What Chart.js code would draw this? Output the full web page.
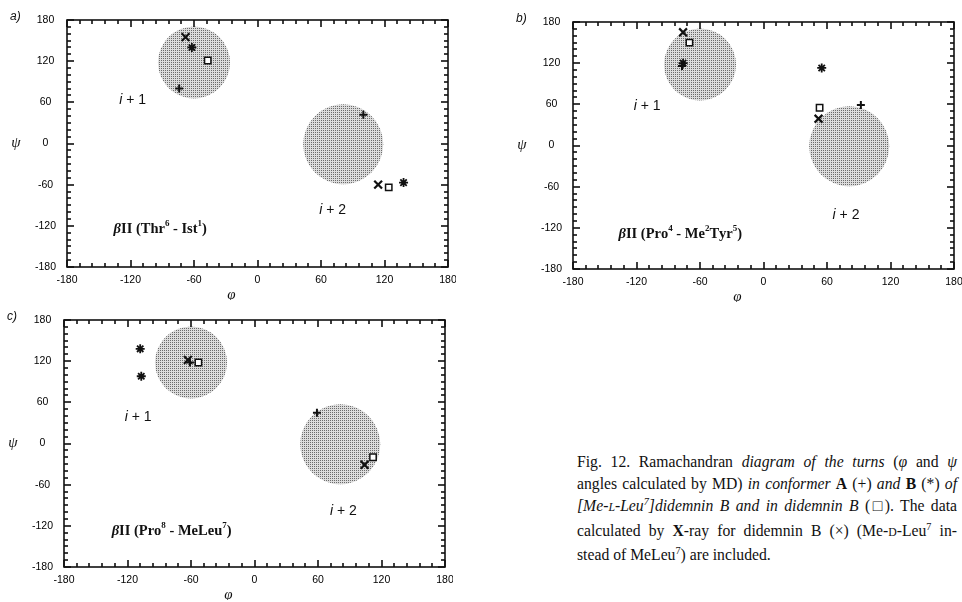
<!DOCTYPE html>
<html>
<head>
<meta charset="utf-8">
<script src="https://cdn.jsdelivr.net/npm/chart.js@4.4.0/dist/chart.umd.min.js"></script>
<style>
  html, body { margin: 0; padding: 0; background: #fff; }
  body { width: 962px; height: 602px; position: relative; overflow: hidden; }
  .panel { position: absolute; }
  #caption { position: absolute; left: 577px; top: 451px; width: 380px; font-family: "Liberation Serif", "DejaVu Serif", serif; font-size: 15.7px; line-height: 22.2px; color: #111; }
  #caption div { text-align: justify; text-align-last: justify; white-space: nowrap; }
  #caption div.last { text-align-last: left; }
  .sc { font-size: 0.75em; }
  sup { font-size: 0.65em; line-height: 0; vertical-align: 0.55em; }
</style>
</head>
<body>
<div class="panel" style="left:3px;top:0px"><canvas id="chartA" width="453" height="300"></canvas></div>
<div class="panel" style="left:509px;top:2px"><canvas id="chartB" width="453" height="300"></canvas></div>
<div class="panel" style="left:0px;top:300px"><canvas id="chartC" width="453" height="300"></canvas></div>
<div id="caption">
  <div>Fig. 12. Ramachandran <i>diagram of the turns</i> (<i>φ</i> and <i>ψ</i></div>
  <div>angles calculated by MD) <i>in conformer</i> <b>A</b> (+) <i>and</i> <b>B</b> (*) <i>of</i></div>
  <div><i>[Me-<span class="sc">L</span>-Leu<sup>7</sup>]didemnin B and in didemnin B</i> (□). The data</div>
  <div>calculated by <b>X</b>-ray for didemnin B (×) (Me-<span class="sc">D</span>-Leu<sup>7</sup> in-</div>
  <div class="last">stead of MeLeu<sup>7</sup>) are included.</div>
</div>
<script>
// Ramachandran plots of the three beta II turns (phi, psi in degrees)
const tickValues = [-180, -120, -60, 0, 60, 120, 180];
const turnCenters = [[-60, 118], [81, -1]]; // i+1 and i+2 regions

// conformer A (+), conformer B (*), didemnin B (square), X-ray (x)
const aPlus = [[-74, 80], [100, 42]];
const aStar = [[-62, 140], [138, -57]];
const aSquare = [[-47, 121], [124, -64]];
const aCross = [[-68, 155], [114, -60]];

const bPlus = [[-77, 116], [92, 59]];
const bStar = [[-76, 120], [55, 113]];
const bSquare = [[-70, 150], [53, 55]];
const bCross = [[-76, 165], [52, 39]];

const cPlus = [[-61, 118], [59, 45]];
const cStar = [[-108, 138], [-107, 98]];
const cSquare = [[-53, 118], [112, -20]];
const cCross = [[-63, 122], [104, -31]];

const panelLetters = ['a)', 'b)', 'c)'];
const turnTitles = ['βII (Thr^6 - Ist^1)', 'βII (Pro^4 - Me^2Tyr^5)', 'βII (Pro^8 - MeLeu^7)'];
const regionLabels = ['i + 1', 'i + 2'];

function toPoints(list) {
    return list.map(p => ({ x: p[0], y: p[1] }));
}

function stipple(ctx) {
    const c = document.createElement('canvas');
    c.width = 2;
    c.height = 2;
    const g = c.getContext('2d');
    g.fillStyle = '#dcdcdc';
    g.fillRect(0, 0, 2, 2);
    g.fillStyle = '#6a6a6a';
    g.fillRect(0, 0, 1, 1);
    return ctx.createPattern(c, 'repeat');
}

// '^' puts the next char up as a superscript, beta is set in italics
function drawTitle(ctx, text, x, y, size) {
    let cx = x;
    ctx.textAlign = 'left';
    ctx.textBaseline = 'middle';
    for (let i = 0; i < text.length; i++) {
        let ch = text[i];
        let sup = false;
        if (ch === '^') {
            sup = true;
            ch = text[++i];
        }
        const s = sup ? size * 0.62 : size;
        ctx.font = (ch === 'β' ? 'italic ' : '') + 'bold ' + s + 'px "Liberation Serif", serif';
        ctx.fillText(ch, cx, sup ? y - size * 0.36 : y);
        cx += ctx.measureText(ch).width;
    }
}

function drawRegionLabel(ctx, text, cx, cy) {
    const head = text[0];
    const rest = text.slice(1);
    const f1 = 'italic 14px "Liberation Sans", sans-serif';
    const f2 = '14px "Liberation Sans", sans-serif';
    ctx.font = f1;
    const w1 = ctx.measureText(head).width;
    ctx.font = f2;
    const w2 = ctx.measureText(rest).width;
    let x = cx - (w1 + w2) / 2;
    ctx.textAlign = 'left';
    ctx.textBaseline = 'middle';
    ctx.font = f1;
    ctx.fillText(head, x, cy);
    ctx.font = f2;
    ctx.fillText(rest, x + w1, cy);
}

const framePlugin = {
    id: 'frame',
    afterDraw(chart, args, opts) {
        const ctx = chart.ctx;
        const a = chart.chartArea;
        const x = chart.scales.x;
        const y = chart.scales.y;
        ctx.save();
        ctx.fillStyle = '#000';
        ctx.strokeStyle = '#111';

        // inward ticks on all four sides
        for (let v = -180; v <= 180; v += 12) {
            const px = Math.round(x.getPixelForValue(v)) - 0.75;
            const len = (v % 60 === 0) ? 7 : 4;
            ctx.fillRect(px, a.bottom - len, 1.5, len);
            ctx.fillRect(px, a.top, 1.5, len);
        }
        for (let v = -180; v <= 180; v += 10) {
            const py = Math.round(y.getPixelForValue(v)) - 0.75;
            const len = (v % 60 === 0) ? 7 : 4;
            ctx.fillRect(a.left, py, len, 1.5);
            ctx.fillRect(a.right - len, py, len, 1.5);
        }
        ctx.lineWidth = 1.6;
        ctx.strokeRect(a.left, a.top, a.right - a.left, a.bottom - a.top);

        // axis symbols and panel letter
        ctx.fillStyle = '#111';
        ctx.textAlign = 'center';
        ctx.textBaseline = 'middle';
        ctx.font = 'italic 15px "Liberation Serif", serif';
        ctx.fillText('ψ', a.left - 51, y.getPixelForValue(0));
        ctx.fillText('φ', (a.left + a.right) / 2 - 26, a.bottom + 28);
        ctx.textAlign = 'left';
        ctx.font = 'italic 12px "Liberation Sans", sans-serif';
        ctx.fillText(opts.letter, a.left - 57, a.top - 3);

        // region labels and turn title, placed in data units
        opts.labelPos.forEach((p, i) => {
            drawRegionLabel(ctx, regionLabels[i], x.getPixelForValue(p[0]), y.getPixelForValue(p[1]));
        });
        drawTitle(ctx, opts.title, x.getPixelForValue(opts.titlePos[0]), y.getPixelForValue(opts.titlePos[1]), 14.5);
        ctx.restore();
    }
};

function makePanel(id, idx, plus, star, square, cross, labelPos, titlePos) {
    const canvas = document.getElementById(id);
    const ctx = canvas.getContext('2d');
    const shade = stipple(ctx);

    const axis = (pos) => ({
        type: 'linear',
        position: pos,
        min: -180,
        max: 180,
        afterBuildTicks: (scale) => {
            scale.ticks = tickValues.map(v => ({ value: v }));
        },
        afterFit: (scale) => {
            if (pos === 'left') {
                scale.width = 64;
            } else {
                scale.height = 33;
            }
            scale.paddingLeft = 0;
            scale.paddingRight = 0;
            scale.paddingTop = 0;
            scale.paddingBottom = 0;
        },
        grid: { display: false, drawTicks: false },
        border: { display: false },
        ticks: {
            autoSkip: false,
            maxRotation: 0,
            color: '#000',
            padding: pos === 'left' ? 11 : 13,
            crossAlign: 'center',
            font: { family: '"Liberation Sans", Arial, sans-serif', size: 10.5 }
        }
    });

    return new Chart(ctx, {
        type: 'scatter',
        data: {
            datasets: [{
                label: 'regions',
                data: toPoints(turnCenters),
                pointRadius: [36, 40],
                pointBackgroundColor: shade,
                pointBorderWidth: 0,
                pointBorderColor: 'rgba(0,0,0,0)',
                order: 10
            }, {
                label: 'A (+)',
                data: toPoints(plus),
                pointStyle: 'cross',
                pointRadius: 4,
                pointBorderWidth: 2,
                pointBorderColor: '#111'
            }, {
                label: 'B (*)',
                data: toPoints(star),
                pointStyle: 'star',
                pointRadius: 4.5,
                pointBorderWidth: 1.8,
                pointBorderColor: '#111'
            }, {
                label: 'didemnin B',
                data: toPoints(square),
                pointStyle: 'rect',
                pointRadius: 4.5,
                pointBorderWidth: 1.5,
                pointBorderColor: '#111',
                pointBackgroundColor: '#fff'
            }, {
                label: 'X-ray',
                data: toPoints(cross),
                pointStyle: 'crossRot',
                pointRadius: 5.5,
                pointBorderWidth: 2.2,
                pointBorderColor: '#111'
            }]
        },
        options: {
            responsive: false,
            animation: false,
            events: [],
            layout: { autoPadding: false, padding: { left: 0, top: 20, right: 8, bottom: 0 } },
            scales: { x: axis('bottom'), y: axis('left') },
            plugins: {
                legend: { display: false },
                tooltip: { enabled: false },
                frame: {
                    letter: panelLetters[idx],
                    title: turnTitles[idx],
                    labelPos: labelPos,
                    titlePos: titlePos
                }
            }
        },
        plugins: [framePlugin]
    });
}

makePanel('chartA', 0, aPlus, aStar, aSquare, aCross, [[-118, 63], [71, -97]], [-136, -125]);
makePanel('chartB', 1, bPlus, bStar, bSquare, bCross, [[-110, 58], [78, -102]], [-137, -129]);
makePanel('chartC', 2, cPlus, cStar, cSquare, cCross, [[-110, 38], [84, -98]], [-135, -128]);
</script>
</body>
</html>
